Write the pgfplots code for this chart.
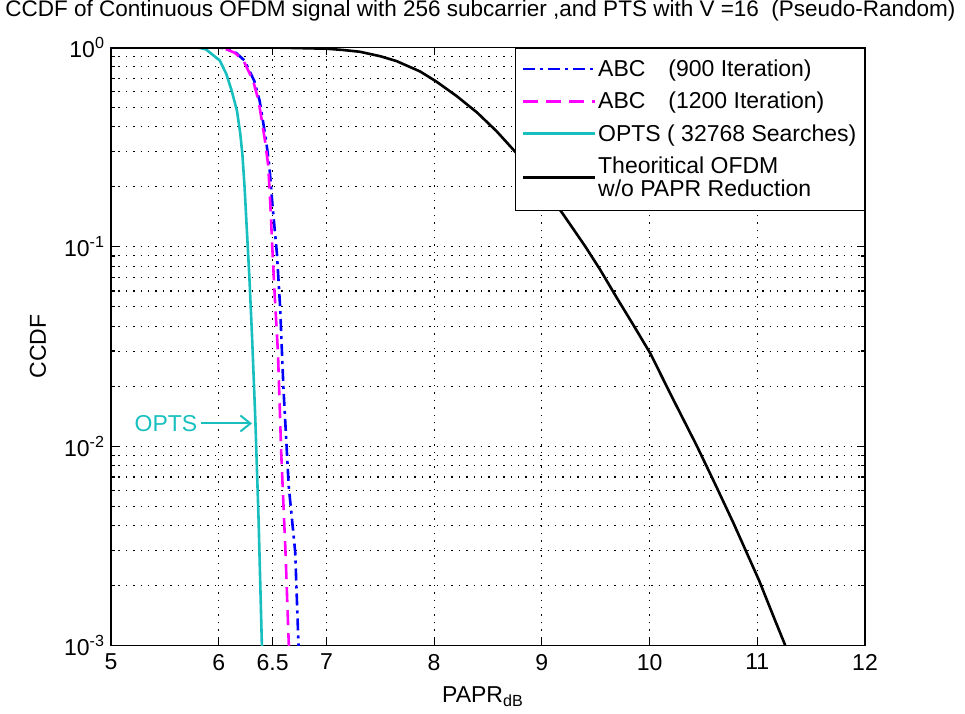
\documentclass[border=0pt]{standalone}
\usepackage{pgfplots}
\pgfplotsset{compat=1.18}
\usepackage{fontspec}
\setmainfont{Liberation Sans}
\usetikzlibrary{arrows.meta}
\definecolor{optsc}{rgb}{0.1,0.75,0.75}
\definecolor{mag}{rgb}{1,0,1}
\definecolor{blu}{rgb}{0,0,1}
\begin{document}
\begin{tikzpicture}
\begin{axis}[
  name=ax,
  scale only axis,
  width=754pt, height=598pt,
  xmin=5, xmax=12,
  ymode=log, ymin=1e-3, ymax=1,
  xtick={5,6,6.5,7,8,9,10,11,12},
  xticklabels={5,6,6.5,7,8,9,10,11,12},
  ytick={1e-3,1e-2,1e-1,1},
  yticklabels={10\textsuperscript{-3},10\textsuperscript{-2},10\textsuperscript{-1},10\textsuperscript{0}},
  tick align=inside,
  major tick length=8pt, minor tick length=4pt,
  tick style={line width=1.2pt, black},
  axis line style={line width=1.5pt},
  xmajorgrids, ymajorgrids, yminorgrids,
  grid style={black, line width=1.1pt, dash pattern=on 1.4pt off 6pt},
  minor grid style={black, line width=1.1pt, dash pattern=on 1.4pt off 6pt},
  font=\fontsize{23}{27}\selectfont,
  tick label style={font=\fontsize{23}{27}\selectfont},
  xticklabel style={yshift=-5pt},
  yticklabel style={xshift=-3pt},
  title={\resizebox{950pt}{!}{CCDF of Continuous OFDM signal with 256 subcarrier ,and PTS with V =16\ \ (Pseudo-Random)}},
  title style={at={(axis description cs:0.49,1)}, anchor=center, inner sep=0pt, yshift=31pt},
  xlabel={PAPR\textsubscript{dB}},
  xlabel style={at={(axis description cs:0.493,-0.095)}, anchor=base},
  ylabel={CCDF},
  ylabel style={at={(axis description cs:-0.097,0.5)}, anchor=center},
  legend style={at={(1,1)}, anchor=north east, draw=black, line width=1.2pt,
    cells={anchor=west, align=left}, font=\fontsize{23}{23.5}\selectfont,
    inner xsep=6pt, inner ysep=10pt, row sep=10pt},
  legend image code/.code={\draw[#1] (0pt,0pt) -- (72pt,0pt);},
  legend cell align=left,
  clip=true,
]
\addplot[blu, line width=2.6pt, dash pattern=on 12pt off 5pt on 3pt off 5pt]
 coordinates {(5.0,1)(6.0,1)(6.06,0.99)(6.16,0.94)(6.24,0.86)(6.33,0.68)(6.38,0.54)(6.41,0.43)(6.44,0.34)(6.47,0.255)(6.50,0.16)(6.54,0.093)(6.57,0.05)(6.60,0.02)(6.65,0.0063)(6.71,0.00295)(6.74,0.00103)(6.75,0.0008)};
\addlegendentry{ABC\quad (900 Iteration)}
\addplot[mag, line width=2.6pt, dash pattern=on 15pt off 8pt]
 coordinates {(5.0,1)(6.0,1)(6.05,0.99)(6.15,0.94)(6.23,0.86)(6.32,0.68)(6.37,0.54)(6.40,0.43)(6.43,0.34)(6.46,0.255)(6.48,0.16)(6.50,0.093)(6.52,0.057)(6.55,0.0295)(6.58,0.0093)(6.62,0.00295)(6.65,0.00103)(6.66,0.0008)};
\addlegendentry{ABC\quad (1200 Iteration)}
\addplot[optsc, line width=2.6pt]
 coordinates {(5.0,1)(5.80,1)(5.88,0.98)(6.01,0.86)(6.07,0.738)(6.12,0.608)(6.17,0.48)(6.20,0.37)(6.22,0.29)(6.24,0.2)(6.26,0.125)(6.285,0.07)(6.31,0.035)(6.34,0.0136)(6.37,0.0043)(6.40,0.00104)(6.41,0.0008)};
\addlegendentry{OPTS ( 32768 Searches)}
\addplot[black, line width=2.6pt]
 coordinates {(5,1)(6.5,0.9994)(7.0,0.986)(7.15,0.972)(7.31,0.952)(7.5,0.904)(7.65,0.855)(7.87,0.758)(8.02,0.675)(8.21,0.57)(8.4,0.471)(8.58,0.38)(8.8,0.281)(9.0,0.205)(9.2,0.145)(9.4,0.101)(9.54,0.077)(9.7,0.055)(9.85,0.0405)(10.01,0.029)(10.2,0.018)(10.44,0.01)(10.6,0.0066)(10.78,0.0041)(11.02,0.0021)(11.15,0.0014)(11.26,0.001)(11.3,0.0009)};
\addlegendentry{Theoritical OFDM\\w/o PAPR Reduction}
\end{axis}
\node[text=optsc, font=\fontsize{23}{27}\selectfont] at ([xshift=55pt,yshift=222pt]ax.south west) {OPTS};
\draw[optsc, line width=2pt, -{Straight Barb[length=10pt,width=16pt]}] ([xshift=90pt,yshift=222pt]ax.south west) -- ([xshift=141pt,yshift=222pt]ax.south west);
\useasboundingbox ([shift={(-111pt,-68pt)}]ax.south west) rectangle ([shift={(100pt,45pt)}]ax.north east);
\end{tikzpicture}
\end{document}
